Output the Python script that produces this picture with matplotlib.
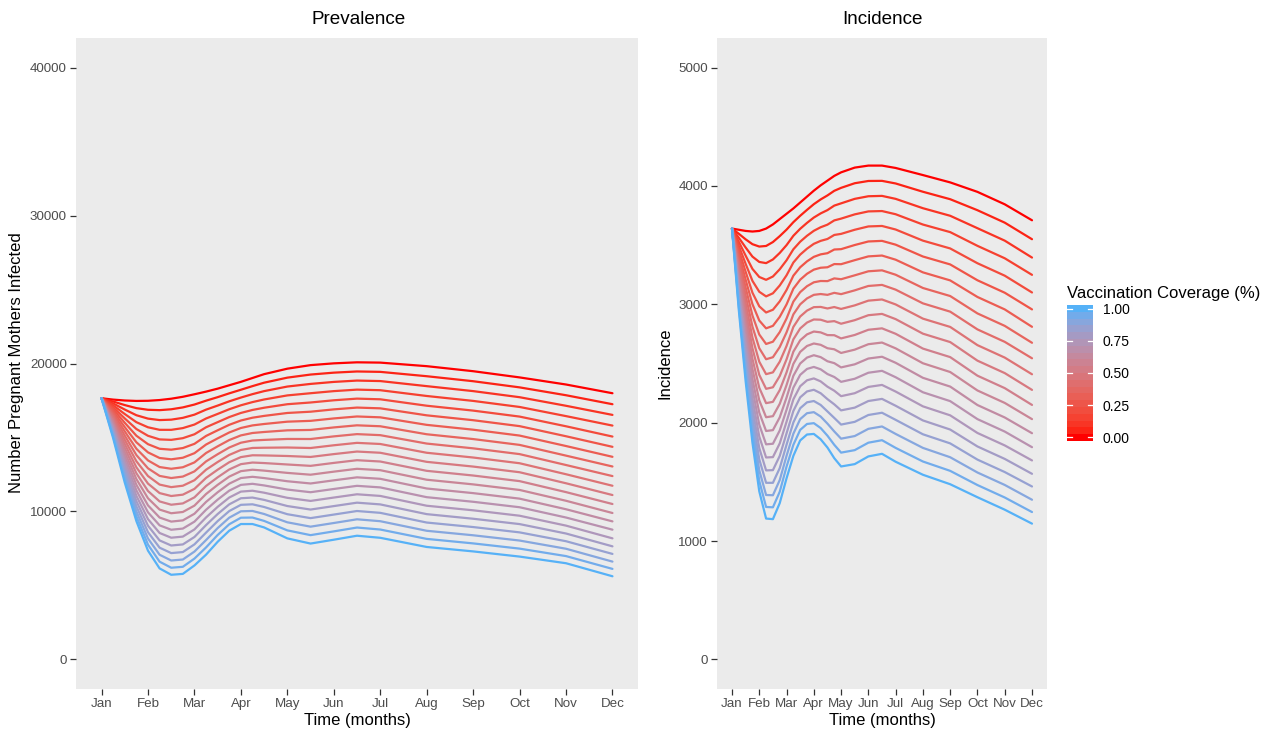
import numpy as np
import matplotlib
matplotlib.use("Agg")
import matplotlib.pyplot as plt
from matplotlib.colors import ListedColormap

plt.rcParams['font.family'] = ['Liberation Sans', 'DejaVu Sans']

# ---------------- data ----------------
months = ['Jan', 'Feb', 'Mar', 'Apr', 'May', 'Jun', 'Jul', 'Aug', 'Sep', 'Oct', 'Nov', 'Dec']
coverage = [0.00, 0.05, 0.10, 0.15, 0.20, 0.25, 0.30, 0.35, 0.40, 0.45, 0.50,
            0.55, 0.60, 0.65, 0.70, 0.75, 0.80, 0.85, 0.90, 0.95, 1.00]

# time in months since Jan (0 = Jan, 11 = Dec)
prevalence_time = [0, 0.25, 0.5, 0.75, 1, 1.25, 1.5, 1.75, 2, 2.25, 2.5, 2.75, 3,
                   3.25, 3.5, 4, 4.5, 5, 5.5, 6, 7, 8, 9, 10, 11]

# prevalence: one row per time point, one value per coverage level (0 -> 1)
prevalence_rows = [
    [17650] * 21,
    [17560, 17430, 17300, 17170, 17040, 16910, 16780, 16650, 16520, 16390, 16255, 16120, 15990, 15860, 15730, 15600, 15470, 15340, 15210, 15080, 14950],
    [17500, 17190, 16887, 16585, 16286, 15991, 15698, 15410, 15124, 14842, 14563, 14287, 14014, 13745, 13478, 13216, 12956, 12700, 12447, 12196, 11950],
    [17470, 16983, 16504, 16034, 15572, 15119, 14675, 14239, 13812, 13393, 12983, 12581, 12188, 11803, 11427, 11059, 10700, 10350, 10009, 9675, 9350],
    [17480, 16872, 16275, 15689, 15113, 14547, 13993, 13449, 12916, 12394, 11882, 11381, 10890, 10410, 9941, 9482, 9035, 8598, 8172, 7755, 7350],
    [17530, 16847, 16176, 15518, 14870, 14235, 13613, 13002, 12403, 11816, 11241, 10678, 10127, 9588, 9061, 8545, 8042, 7552, 7073, 6605, 6150],
    [17620, 16906, 16204, 15516, 14839, 14175, 13524, 12885, 12259, 11645, 11044, 10455, 9879, 9315, 8764, 8225, 7699, 7186, 6685, 6196, 5720],
    [17750, 17032, 16326, 15634, 14953, 14285, 13630, 12987, 12358, 11740, 11135, 10543, 9964, 9396, 8842, 8300, 7771, 7255, 6751, 6259, 5780],
    [17920, 17226, 16543, 15874, 15216, 14570, 13938, 13316, 12708, 12111, 11526, 10954, 10394, 9845, 9310, 8785, 8274, 7775, 7288, 6813, 6350],
    [18100, 17487, 16882, 16283, 15690, 15104, 14523, 13950, 13382, 12821, 12268, 11721, 11178, 10644, 10115, 9594, 9078, 8569, 8066, 7569, 7080],
    [18300, 17725, 17156, 16593, 16036, 15486, 14940, 14402, 13869, 13342, 12823, 12308, 11799, 11297, 10800, 10311, 9826, 9348, 8876, 8410, 7950],
    [18530, 17983, 17444, 16909, 16380, 15857, 15339, 14828, 14322, 13821, 13328, 12839, 12356, 11879, 11407, 10942, 10482, 10028, 9580, 9136, 8700],
    [18760, 18226, 17698, 17175, 16658, 16147, 15641, 15141, 14646, 14157, 13674, 13197, 12724, 12258, 11797, 11342, 10892, 10448, 10010, 9577, 9150],
    [19020, 18471, 17929, 17392, 16861, 16336, 15816, 15303, 14795, 14292, 13797, 13306, 12821, 12342, 11868, 11401, 10939, 10483, 10033, 9588, 9150],
    [19280, 18703, 18133, 17568, 17010, 16458, 15911, 15371, 14836, 14308, 13787, 13271, 12760, 12257, 11759, 11268, 10782, 10302, 9829, 9361, 8920],
    [19650, 19044, 18442, 17843, 17248, 16656, 16068, 15483, 14900, 14322, 13748, 13175, 12606, 12042, 11480, 10921, 10366, 9814, 9266, 8721, 8180],
    [19890, 19253, 18620, 17991, 17365, 16742, 16124, 15509, 14896, 14288, 13684, 13082, 12484, 11891, 11300, 10712, 10129, 9549, 8972, 8399, 7830],
    [20010, 19381, 18755, 18133, 17514, 16899, 16287, 15679, 15074, 14473, 13876, 13281, 12690, 12103, 11519, 10939, 10362, 9789, 9219, 8653, 8090],
    [20080, 19461, 18846, 18234, 17626, 17021, 16420, 15822, 15227, 14636, 14049, 13464, 12883, 12306, 11732, 11161, 10594, 10030, 9470, 8913, 8360],
    [20060, 19435, 18813, 18195, 17581, 16970, 16362, 15759, 15157, 14560, 13967, 13376, 12789, 12207, 11626, 11050, 10477, 9907, 9341, 8779, 8220],
    [19820, 19141, 18470, 17805, 17147, 16497, 15853, 15218, 14589, 13967, 13353, 12746, 12145, 11552, 10965, 10387, 9819, 9251, 8694, 8146, 7600],
    [19480, 18803, 18134, 17472, 16816, 16168, 15526, 14893, 14266, 13646, 13034, 12429, 11830, 11239, 10654, 10078, 9508, 8946, 8390, 7841, 7300],
    [19060, 18387, 17722, 17063, 16412, 15767, 15129, 14499, 13876, 13259, 12651, 12050, 11454, 10866, 10285, 9712, 9146, 8586, 8034, 7488, 6950],
    [18580, 17855, 17142, 16444, 15757, 15083, 14422, 13773, 13138, 12515, 11905, 11307, 10722, 10149, 9590, 9043, 8509, 7988, 7480, 6983, 6500],
    [17990, 17248, 16526, 15804, 15062, 14368, 13693, 13039, 12391, 11737, 11110, 10503, 9895, 9329, 8769, 8182, 7642, 7130, 6610, 6118, 5619],
]

incidence_time = [0, 0.25, 0.5, 0.75, 1, 1.25, 1.5, 1.75, 2, 2.25, 2.5, 2.75, 3,
                  3.25, 3.5, 3.75, 4, 4.5, 5, 5.5, 6, 7, 8, 9, 10, 11]

# incidence: one row per time point, one value per coverage level (0 -> 1)
incidence_rows = [
    [3640] * 21,
    [3630, 3596, 3562, 3528, 3494, 3460, 3426, 3392, 3358, 3324, 3290, 3256, 3222, 3188, 3154, 3120, 3086, 3052, 3018, 2984, 2950],
    [3620, 3549, 3480, 3411, 3342, 3275, 3208, 3142, 3076, 3012, 2948, 2885, 2822, 2761, 2700, 2640, 2580, 2522, 2464, 2406, 2350],
    [3615, 3508, 3403, 3299, 3198, 3098, 3001, 2905, 2811, 2719, 2629, 2540, 2454, 2369, 2287, 2206, 2127, 2050, 1975, 1901, 1830],
    [3620, 3488, 3358, 3231, 3106, 2983, 2863, 2745, 2629, 2515, 2404, 2295, 2189, 2085, 1983, 1883, 1786, 1691, 1598, 1508, 1420],
    [3640, 3493, 3348, 3207, 3067, 2931, 2797, 2665, 2536, 2410, 2286, 2165, 2046, 1930, 1817, 1706, 1597, 1492, 1389, 1288, 1190],
    [3675, 3526, 3379, 3235, 3093, 2954, 2818, 2684, 2553, 2425, 2299, 2176, 2055, 1937, 1822, 1709, 1599, 1492, 1387, 1285, 1185],
    [3720, 3576, 3434, 3296, 3159, 3025, 2894, 2765, 2639, 2515, 2394, 2275, 2159, 2045, 1934, 1825, 1719, 1616, 1515, 1416, 1320],
    [3765, 3631, 3500, 3372, 3245, 3121, 2999, 2880, 2763, 2648, 2535, 2425, 2318, 2212, 2109, 2008, 1910, 1814, 1720, 1629, 1530],
    [3810, 3694, 3579, 3465, 3353, 3242, 3132, 3023, 2915, 2809, 2704, 2600, 2497, 2396, 2296, 2197, 2099, 2002, 1907, 1813, 1720],
    [3860, 3748, 3638, 3529, 3420, 3313, 3208, 3103, 3000, 2897, 2796, 2696, 2598, 2500, 2404, 2308, 2214, 2122, 2030, 1939, 1850],
    [3910, 3798, 3688, 3579, 3470, 3363, 3258, 3153, 3050, 2947, 2846, 2746, 2648, 2550, 2454, 2358, 2264, 2172, 2080, 1989, 1900],
    [3960, 3846, 3733, 3621, 3511, 3401, 3293, 3186, 3080, 2976, 2872, 2770, 2669, 2570, 2471, 2374, 2278, 2183, 2089, 1996, 1905],
    [4005, 3886, 3768, 3651, 3536, 3422, 3309, 3197, 3087, 2978, 2870, 2763, 2658, 2554, 2451, 2349, 2249, 2150, 2052, 1955, 1860],
    [4045, 3920, 3796, 3673, 3552, 3432, 3313, 3196, 3080, 2965, 2852, 2740, 2629, 2519, 2411, 2304, 2199, 2095, 1992, 1890, 1790],
    [4085, 3959, 3834, 3709, 3586, 3463, 3340, 3219, 3097, 2977, 2858, 2739, 2620, 2503, 2386, 2270, 2155, 2040, 1926, 1813, 1700],
    [4115, 3984, 3853, 3724, 3595, 3466, 3339, 3212, 3086, 2961, 2836, 2712, 2589, 2467, 2345, 2224, 2104, 1984, 1865, 1747, 1630],
    [4155, 4023, 3891, 3760, 3630, 3501, 3373, 3245, 3118, 2991, 2866, 2741, 2617, 2493, 2371, 2249, 2127, 2007, 1887, 1768, 1650],
    [4172, 4042, 3913, 3785, 3658, 3531, 3405, 3279, 3155, 3031, 2908, 2785, 2663, 2542, 2422, 2302, 2183, 2065, 1948, 1831, 1715],
    [4172, 4043, 3916, 3788, 3662, 3536, 3412, 3287, 3164, 3041, 2919, 2797, 2677, 2557, 2438, 2319, 2201, 2084, 1968, 1852, 1737],
    [4152, 4021, 3891, 3761, 3632, 3504, 3377, 3250, 3124, 2999, 2875, 2751, 2628, 2506, 2384, 2263, 2143, 2024, 1905, 1787, 1670],
    [4092, 3951, 3812, 3674, 3538, 3404, 3270, 3138, 3008, 2879, 2752, 2626, 2502, 2379, 2257, 2138, 2019, 1902, 1787, 1672, 1560],
    [4030, 3888, 3748, 3610, 3472, 3337, 3202, 3070, 2938, 2809, 2681, 2554, 2428, 2305, 2182, 2062, 1942, 1825, 1708, 1593, 1480],
    [3950, 3795, 3643, 3494, 3347, 3203, 3062, 2923, 2788, 2655, 2524, 2397, 2272, 2149, 2030, 1913, 1799, 1688, 1579, 1473, 1370],
    [3845, 3690, 3538, 3389, 3242, 3098, 2957, 2818, 2683, 2550, 2419, 2292, 2167, 2044, 1925, 1808, 1694, 1583, 1474, 1368, 1265],
    [3710, 3550, 3395, 3249, 3100, 2957, 2810, 2675, 2544, 2409, 2277, 2150, 2030, 1911, 1793, 1681, 1568, 1461, 1349, 1245, 1147],
]

prev_yticks = [0, 10000, 20000, 30000, 40000]
inc_yticks = [0, 1000, 2000, 3000, 4000, 5000]
legend_ticks = [0.00, 0.25, 0.50, 0.75, 1.00]

# ---------------- colour scale (Lab interpolation red -> light blue) ----------------
LOW, HIGH = '#FF0000', '#56B1F7'
WHITE = np.array([0.95047, 1.0, 1.08883])
M = np.array([[0.4124564, 0.3575761, 0.1804375],
              [0.2126729, 0.7151522, 0.0721750],
              [0.0193339, 0.1191920, 0.9503041]])


def hex_rgb(h):
    h = h.lstrip('#')
    return np.array([int(h[i:i + 2], 16) / 255 for i in (0, 2, 4)])


def rgb_lab(rgb):
    lin = np.where(rgb <= 0.04045, rgb / 12.92, ((rgb + 0.055) / 1.055) ** 2.4)
    xyz = M @ lin / WHITE
    f = np.where(xyz > 0.008856, np.cbrt(xyz), 7.787 * xyz + 16 / 116)
    return np.array([116 * f[1] - 16, 500 * (f[0] - f[1]), 200 * (f[1] - f[2])])


def lab_rgb(lab):
    L, a, b = lab
    fy = (L + 16) / 116
    fx = fy + a / 500
    fz = fy - b / 200
    f = np.array([fx, fy, fz])
    xyz = np.where(f ** 3 > 0.008856, f ** 3, (f - 16 / 116) / 7.787) * WHITE
    lin = np.linalg.solve(M, xyz)
    lin = np.clip(lin, 0, 1)
    rgb = np.where(lin <= 0.0031308, 12.92 * lin, 1.055 * lin ** (1 / 2.4) - 0.055)
    return np.clip(rgb, 0, 1)


LAB_LO, LAB_HI = rgb_lab(hex_rgb(LOW)), rgb_lab(hex_rgb(HIGH))


def cov_color(c):
    return lab_rgb(LAB_LO + (LAB_HI - LAB_LO) * c)


# ---------------- figure ----------------
W, H = 1267, 732
fig = plt.figure(figsize=(W / 100, H / 100), dpi=100)
fig.patch.set_facecolor('white')


def px_axes(x0, y0, x1, y1):
    return fig.add_axes([x0 / W, 1 - y1 / H, (x1 - x0) / W, (y1 - y0) / H])


ax1 = px_axes(76, 38, 638, 689)
ax2 = px_axes(717, 38, 1047, 689)

for ax, tp, rows, yt, ylim in [(ax1, prevalence_time, prevalence_rows, prev_yticks, (-2000, 42000)),
                               (ax2, incidence_time, incidence_rows, inc_yticks, (-250, 5250))]:
    t = np.array(tp, dtype=float)
    vals = np.array(rows, dtype=float)
    for k, c in enumerate(coverage):
        ax.plot(t, vals[:, k], color=cov_color(c), lw=1.6, solid_capstyle='round',
                solid_joinstyle='round')
    ax.set_facecolor('#EBEBEB')
    for s in ax.spines.values():
        s.set_visible(False)
    ax.set_xlim(-0.55, 11.55)
    ax.set_ylim(*ylim)
    ax.set_xticks(range(12))
    ax.set_xticklabels(months)
    ax.set_yticks(yt)
    ax.set_yticklabels([str(v) for v in yt])
    ax.tick_params(colors='#333333', labelcolor='#4D4D4D', length=4, width=0.9,
                   labelsize=9.6, pad=2.5)

fig.text(359 / W, 1 - 20 / H, 'Prevalence', ha='center', va='center', fontsize=13.6)
fig.text(882 / W, 1 - 20 / H, 'Incidence', ha='center', va='center', fontsize=13.6)
fig.text(357 / W, 1 - 720 / H, 'Time (months)', ha='center', va='center', fontsize=12)
fig.text(882 / W, 1 - 720 / H, 'Time (months)', ha='center', va='center', fontsize=12)
fig.text(17 / W, 1 - 363 / H, 'Number Pregnant Mothers Infected', ha='center',
         va='center', rotation=90, fontsize=12)
fig.text(665 / W, 1 - 363 / H, 'Incidence', ha='center', va='center', rotation=90,
         fontsize=12)

# ---------------- colour bar legend ----------------
cax = px_axes(1067, 305, 1093, 441)
nb = 20
band_cols = [cov_color(i / (nb - 1)) for i in range(nb)]
cmap = ListedColormap(band_cols)
cax.imshow(np.arange(nb).reshape(-1, 1), cmap=cmap, origin='lower', aspect='auto',
           extent=[0, 1, -0.031, 1.031], interpolation='nearest')
cax.set_xlim(0, 1)
cax.set_ylim(-0.031, 1.031)
for v in legend_ticks:
    cax.plot([0, 0.2], [v, v], color='white', lw=0.9)
    cax.plot([0.8, 1], [v, v], color='white', lw=0.9)
for s in cax.spines.values():
    s.set_visible(False)
cax.set_xticks([])
cax.yaxis.tick_right()
cax.set_yticks(legend_ticks)
cax.set_yticklabels(['%.2f' % v for v in legend_ticks])
cax.tick_params(axis='y', length=0, pad=7, labelsize=10, labelcolor='black')
fig.text(1067 / W, 1 - 293 / H, 'Vaccination Coverage (%)', ha='left', va='center',
         fontsize=12)

fig.savefig('out.png', dpi=100)
